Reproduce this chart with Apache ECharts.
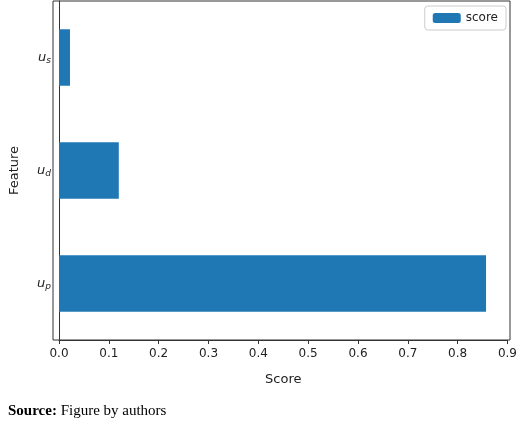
<!DOCTYPE html><html><head><meta charset="utf-8"><script src="https://cdn.jsdelivr.net/npm/echarts@6/dist/echarts.min.js"></script></head><body style="margin:0;background:#fff"><div id="c" style="width:520px;height:425px"></div><script>
const categories=['p','d','s'];
const scores=[0.857,0.12,0.022];
const ticks=[0,0.1,0.2,0.3,0.4,0.5,0.6,0.7,0.8,0.9];
const ch=echarts.init(document.getElementById('c'));
const f='DejaVu Sans';
ch.setOption({animation:false,
grid:{left:53,right:10,top:1,bottom:85},
legend:{right:14,top:6,itemWidth:28,itemHeight:10,padding:[6,8],borderColor:'#ccc',borderWidth:1,borderRadius:3,textStyle:{fontFamily:f,fontSize:12,color:'#222'},data:['score']},
xAxis:{type:'value',min:0,max:0.9,interval:0.1,name:'Score',nameLocation:'middle',nameGap:33,nameTextStyle:{fontFamily:f,fontSize:13,color:'#222'},
 axisLine:{show:true,lineStyle:{color:'#333'}},axisTick:{show:true,length:4,lineStyle:{color:'#333'}},splitLine:{show:false},
 axisLabel:{fontFamily:f,fontSize:12,color:'#222',formatter:v=>v.toFixed(1)}},
yAxis:{type:'category',data:categories,name:'Feature',nameLocation:'middle',nameGap:38,nameTextStyle:{fontFamily:f,fontSize:13,color:'#222'},
 axisLine:{lineStyle:{color:'#333'}},axisTick:{alignWithLabel:true,length:4,lineStyle:{color:'#333'}},
 axisLabel:{formatter:v=>'{u|u}{s|'+v+'}',rich:{u:{fontFamily:f,fontStyle:'italic',fontSize:13,color:'#222'},s:{fontFamily:f,fontStyle:'italic',fontSize:9,color:'#222',verticalAlign:'bottom',padding:[6,0,0,0]}}}},
series:[{name:'score',type:'bar',data:scores,barCategoryGap:'50%',itemStyle:{color:'#1f77b4'}}],
graphic:[{type:'rect',shape:{x:53,y:1,width:457,height:339},style:{fill:'none',stroke:'#333',lineWidth:1},silent:true},
{type:'text',left:8,top:404,style:{rich:{b:{fontFamily:'Liberation Serif',fontWeight:'bold',fontSize:15,fill:'#000'},n:{fontFamily:'Liberation Serif',fontSize:15,fill:'#000'}},text:'{b|Source:}{n| Figure by authors}'}}]
});
</script></body></html>
